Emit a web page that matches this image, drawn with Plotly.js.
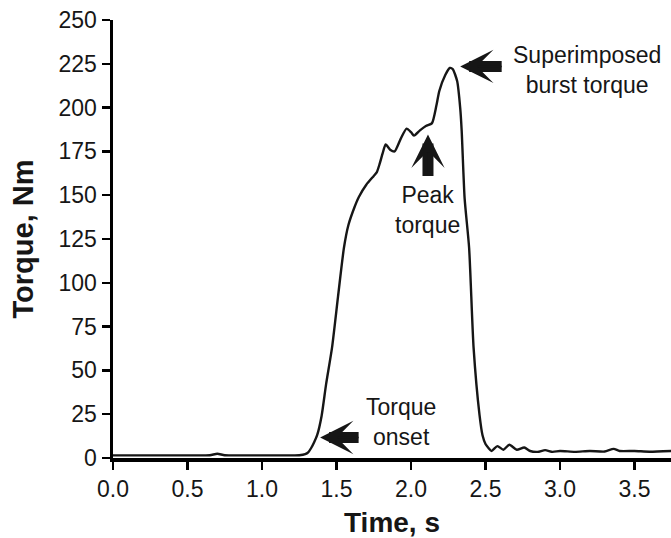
<!DOCTYPE html>
<html>
<head>
<meta charset="utf-8">
<script src="https://cdn.plot.ly/plotly-3.0.1.min.js"></script>
<style>
  html, body { margin: 0; padding: 0; background: #fff; }
  #chart { width: 671px; height: 538px; }
</style>
</head>
<body>
<div id="chart"></div>
<script>
// Time (s) and torque (Nm)
const time = [0.00, 0.20, 0.50, 0.65, 0.70, 0.75, 0.90, 1.10, 1.25, 1.29, 1.31, 1.33, 1.35, 1.37, 1.40, 1.43, 1.47, 1.51, 1.55, 1.58, 1.62, 1.65, 1.70, 1.75, 1.77, 1.79, 1.81, 1.83, 1.86, 1.89, 1.93, 1.97, 2.00, 2.02, 2.06, 2.10, 2.14, 2.17, 2.19, 2.23, 2.26, 2.28, 2.31, 2.33, 2.34, 2.36, 2.39, 2.42, 2.46, 2.48, 2.50, 2.52, 2.54, 2.58, 2.62, 2.66, 2.71, 2.76, 2.80, 2.85, 2.90, 2.95, 3.00, 3.10, 3.20, 3.30, 3.36, 3.40, 3.50, 3.60, 3.75];
const torque = [1.5, 1.5, 1.5, 1.6, 2.4, 1.6, 1.5, 1.5, 1.6, 2.2, 3.2, 5.7, 9, 13, 24, 42, 63, 92, 120, 133, 143, 149, 156, 161, 163, 168, 174, 179, 176, 175, 182, 188, 186, 184, 187, 189.5, 191, 201, 209.5, 218.6, 222.6, 222, 215, 200, 187, 148, 120, 63, 24.5, 13, 8, 5.7, 4, 6.8, 4.7, 7.6, 4.7, 6, 4, 3.5, 4.5, 3.5, 4, 3.5, 4, 3.7, 5.2, 4, 4, 3.6, 4];

const xTickVals = [0, 0.5, 1, 1.5, 2, 2.5, 3, 3.5];
const xTickText = ["0.0", "0.5", "1.0", "1.5", "2.0", "2.5", "3.0", "3.5"];
const yTickVals = [0, 25, 50, 75, 100, 125, 150, 175, 200, 225, 250];

// Annotation labels and the points their arrows indicate
const labels = ["Superimposed<br>burst torque", "Peak<br>torque", "Torque<br>onset"];
const labelX = [3.18, 2.11, 1.93];
const labelY = [221.7, 141.8, 20.8];
const arrowX = [2.33, 2.114, 1.39];
const arrowY = [223.5, 184.6, 11.7];
const arrowAx = [43, 0, 40];
const arrowAy = [0, 43, 0];

const FONT = '"Liberation Sans", Arial, Helvetica, sans-serif';
const INK = '#161616';

const trace = {
  x: time,
  y: torque,
  type: 'scatter',
  mode: 'lines',
  line: { color: INK, width: 2.4, shape: 'spline', smoothing: 0.6 },
  hoverinfo: 'skip'
};

const annotations = [];
labels.forEach((t, i) => {
  annotations.push({
    x: labelX[i], y: labelY[i], xref: 'x', yref: 'y',
    text: t, showarrow: false, align: 'center',
    font: { family: FONT, size: 23, color: INK }
  });
  // thick shaft
  annotations.push({
    x: arrowX[i], y: arrowY[i], xref: 'x', yref: 'y',
    text: '', showarrow: true,
    ax: arrowAx[i], ay: arrowAy[i],
    arrowhead: 0, arrowwidth: 11, standoff: 9, arrowcolor: INK
  });
  // broad head
  annotations.push({
    x: arrowX[i], y: arrowY[i], xref: 'x', yref: 'y',
    text: '', showarrow: true,
    ax: arrowAx[i], ay: arrowAy[i],
    arrowhead: 3, arrowwidth: 1.5, arrowsize: 3.7, arrowcolor: INK
  });
});

const layout = {
  width: 671,
  height: 538,
  margin: { l: 113, r: 0, t: 20, b: 80, pad: 0 },
  paper_bgcolor: '#ffffff',
  plot_bgcolor: '#ffffff',
  showlegend: false,
  font: { family: FONT, color: INK },
  xaxis: {
    range: [0, 3.745],
    tickvals: xTickVals,
    ticktext: xTickText,
    ticks: 'outside', ticklen: 8, tickwidth: 2.5, tickcolor: '#000',
    showline: true, linewidth: 3.5, linecolor: '#000',
    showgrid: false, zeroline: false,
    tickfont: { family: FONT, size: 23, color: INK },
    title: { text: 'Time, s', font: { family: FONT, size: 28, color: INK, weight: 'bold' }, standoff: 19 }
  },
  yaxis: {
    range: [0, 250],
    tickvals: yTickVals,
    ticks: 'outside', ticklen: 8, tickwidth: 2.5, tickcolor: '#000',
    showline: true, linewidth: 3.5, linecolor: '#000',
    showgrid: false, zeroline: false,
    tickfont: { family: FONT, size: 23, color: INK },
    title: { text: 'Torque, Nm', font: { family: FONT, size: 29, color: INK, weight: 'bold' }, standoff: 17 }
  },
  annotations: annotations
};

Plotly.newPlot('chart', [trace], layout, { displayModeBar: false, staticPlot: true });
</script>
</body>
</html>
